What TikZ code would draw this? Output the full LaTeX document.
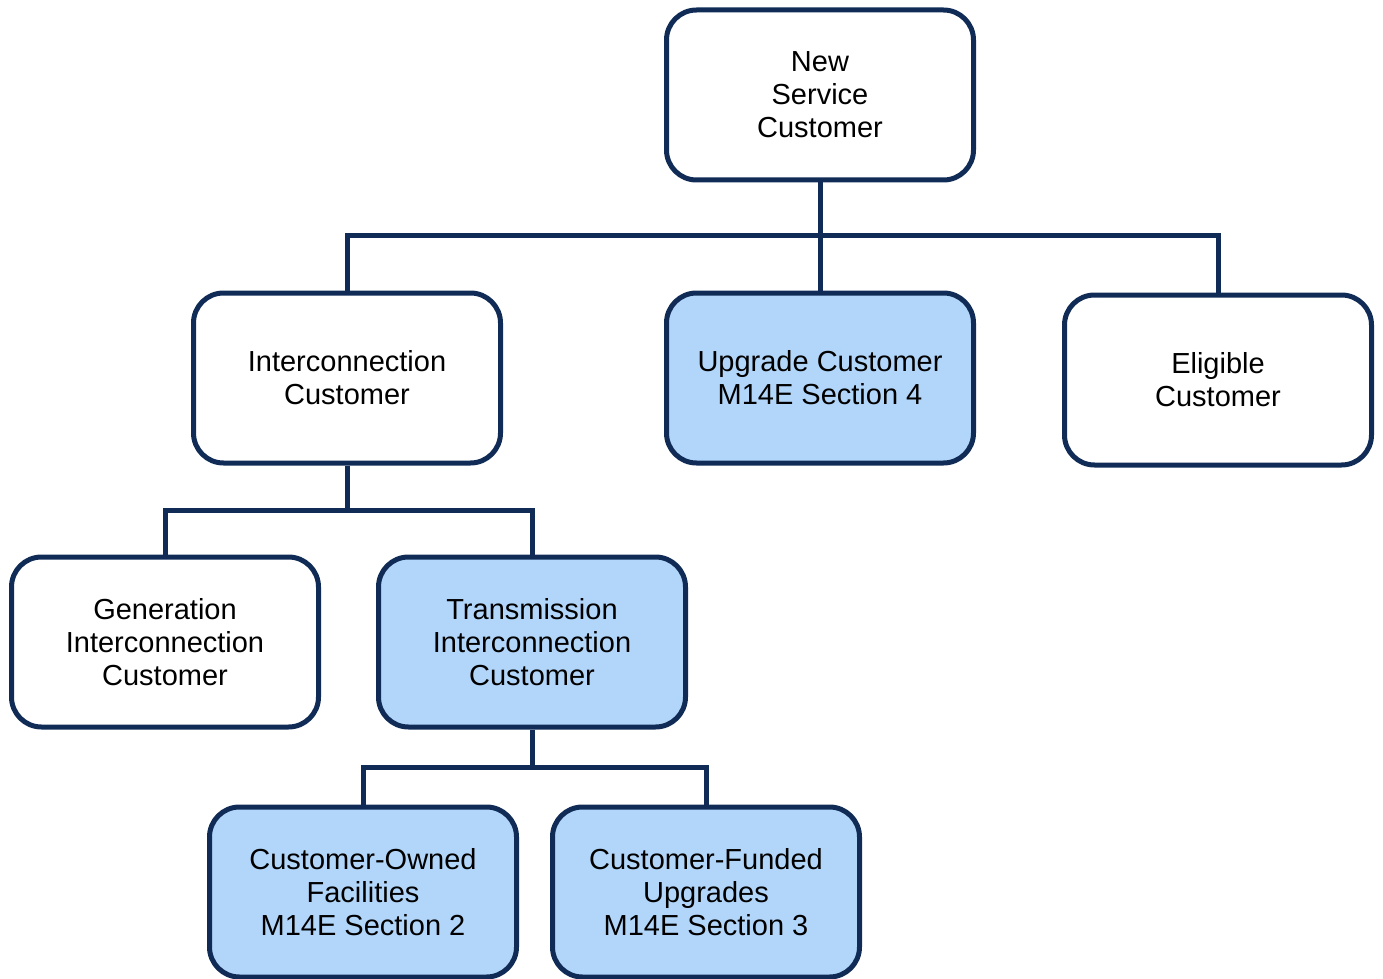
\documentclass[tikz,border=0pt]{standalone}
\usepackage{fontspec}
\setmainfont{Liberation Sans}
\definecolor{navy}{RGB}{16,44,86}
\definecolor{paleblue}{RGB}{178,214,250}

\begin{document}
\begin{tikzpicture}[x=0.5pt, y=-0.5pt,
    box/.style={draw=navy, line width=2.5pt, rounded corners=15pt, fill=white,
        minimum width=153.5pt, minimum height=85pt, align=center,
        font=\fontsize{14.5pt}{16.5pt}\selectfont},
    hilite/.style={box, fill=paleblue},
    link/.style={draw=navy, line width=2.5pt}]
    \useasboundingbox (0, 0) rectangle (1383, 979);

    % boxes
    \node[box] (new) at (820, 95) {New\\Service\\Customer};
    \node[box] (inter) at (347, 378) {Interconnection\\Customer};
    \node[hilite] (upgrade) at (820, 378) {Upgrade Customer\\M14E Section 4};
    \node[box] (eligible) at (1218, 380) {Eligible\\Customer};
    \node[box] (gen) at (165, 642) {Generation\\Interconnection\\Customer};
    \node[hilite] (trans) at (532, 642) {Transmission\\Interconnection\\Customer};
    \node[hilite] (owned) at (363, 892) {Customer-Owned\\Facilities\\M14E Section 2};
    \node[hilite] (funded) at (706, 892) {Customer-Funded\\Upgrades\\M14E Section 3};

    % branch points
    \coordinate (busNew) at (820, 236);
    \coordinate (busInter) at (347, 510);
    \coordinate (busTrans) at (532, 767);

    % connectors
    \draw[link] (new.south) -- (busNew);
    \draw[link] (inter.north) |- (busNew) -| (eligible.north);
    \draw[link] (busNew) -- (upgrade.north);

    \draw[link] (inter.south) -- (busInter);
    \draw[link] (gen.north) |- (busInter) -| (trans.north);

    \draw[link] (trans.south) -- (busTrans);
    \draw[link] (owned.north) |- (busTrans) -| (funded.north);
\end{tikzpicture}
\end{document}
